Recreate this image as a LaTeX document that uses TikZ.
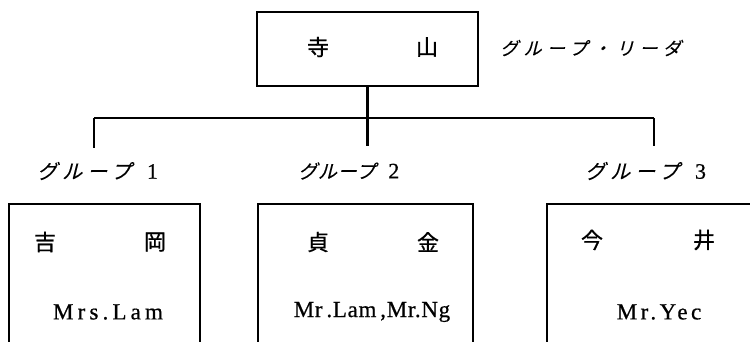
\documentclass[tikz,border=0pt]{standalone}
\usepackage{fontspec}
\setmainfont[FakeBold=0.6]{Liberation Serif}
\newfontfamily\jp[FakeBold=0.8]{Noto Sans CJK JP}
\newfontfamily\jpk[FakeSlant=0.25,FakeBold=0.3]{Noto Sans CJK JP}
\begin{document}
\begin{tikzpicture}[x=1pt,y=-1pt,
  frame/.style={draw, line width=1.6pt, inner sep=0pt},
  kanji/.style={font=\jp\fontsize{22}{22}\selectfont, inner sep=0pt},
  latin/.style={font=\fontsize{23}{23}\selectfont, inner sep=0pt},
  grp/.style={inner sep=0pt, anchor=west},
  conn/.style={line width=2.2pt}]
\useasboundingbox (0,0) rectangle (750,342);
\clip (0,0) rectangle (750,342);
% top box
\node[frame, minimum width=221pt, minimum height=74pt] (top) at (367.5,49) {};
\node[kanji] (k1) at (318,47) {寺};
\node[kanji] (k2) at (427,47) {山};
\node[grp] (lead) at (500,48) {\jpk\fontsize{18}{18}\selectfont\addfontfeature{LetterSpace=30}グループ・リーダ};
% connectors
\coordinate (hl) at (94,118);
\coordinate (hr) at (654,118);
\coordinate (c1) at (94,148);
\coordinate (c2) at (367.5,146);
\coordinate (c3) at (654,146);
\draw[conn] (top.south) -- (c2);
\draw[line width=1.5pt] (hl) -- (hr);
\draw[conn] (hl) -- (c1);
\draw[conn] (hr) -- (c3);
% group labels
\node[grp] (g1) at (37,171) {{\jpk\fontsize{20}{20}\selectfont\addfontfeature{LetterSpace=25}グループ}\hspace{16pt}{\fontsize{22}{22}\selectfont 1}};
\node[grp] (g2) at (298,171) {{\jpk\fontsize{19}{19}\selectfont\addfontfeature{LetterSpace=4}グループ}\hspace{13pt}{\fontsize{22}{22}\selectfont 2}};
\node[grp] (g3) at (585,171) {{\jpk\fontsize{20}{20}\selectfont\addfontfeature{LetterSpace=25}グループ}\hspace{16pt}{\fontsize{22}{22}\selectfont 3}};
% lower boxes
\node[frame, minimum width=191pt, minimum height=200pt, anchor=north west] (b1) at (8,203) {};
\node[frame, minimum width=215pt, minimum height=200pt, anchor=north west] (b2) at (257,203) {};
\node[frame, minimum width=260pt, minimum height=200pt, anchor=north west] (b3) at (546,203) {};
\node[kanji] (n11) at (45,242) {吉};
\node[kanji] (n12) at (155,242) {岡};
\node[latin] (n13) at (108,312) {\addfontfeature{LetterSpace=18}Mrs.Lam};
\node[kanji] (n21) at (318,242) {貞};
\node[kanji] (n22) at (428,242) {金};
\node[latin] (n23) at (372,312) {\addfontfeature{LetterSpace=3}Mr\,.Lam\,,Mr.Ng};
\node[kanji] (n31) at (592,240) {今};
\node[kanji] (n32) at (704,240) {井};
\node[latin] (n33) at (659,312) {\addfontfeature{LetterSpace=15}Mr.Yec};
\end{tikzpicture}
\end{document}
